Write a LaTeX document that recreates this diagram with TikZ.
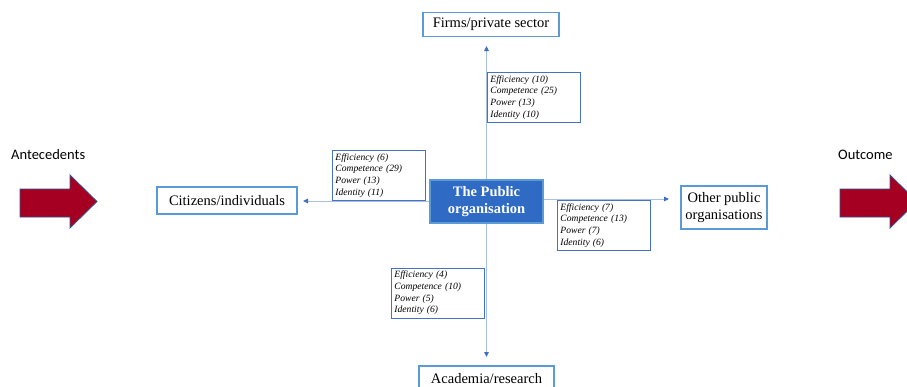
\documentclass[tikz,border=0pt]{standalone}
\usepackage{fontspec}
\setmainfont{Liberation Serif}
\newfontfamily\calibrifont{Carlito}
\usetikzlibrary{arrows.meta,backgrounds}

\definecolor{boxblue}{HTML}{5B9BD5}
\definecolor{tagblue}{HTML}{4472C4}
\definecolor{pubfill}{HTML}{2F6BC4}
\definecolor{linkblue}{HTML}{A9BFE3}
\definecolor{tipblue}{HTML}{3E6FC2}
\definecolor{blockred}{HTML}{A50021}
\definecolor{blockedge}{HTML}{2F528F}

\tikzset{
  actor/.style={draw=boxblue, line width=1.1pt, fill=white, inner sep=0pt,
    align=center, font=\fontsize{14.5}{17}\selectfont},
  public/.style={draw=boxblue, line width=1.1pt, fill=pubfill, text=white,
    inner sep=0pt, align=center, font=\fontsize{14.5}{17}\bfseries},
  tag/.style={draw=tagblue, line width=0.9pt, fill=white, inner xsep=3pt,
    inner ysep=0pt, text width=87pt, minimum height=50pt, align=left,
    font=\fontsize{9.6}{11.6}\itshape},
  link/.style={draw=linkblue, line width=0.9pt,
    -{Triangle[length=5pt,width=4.5pt,color=tipblue]}},
  block/.style={fill=blockred, draw=blockedge, line width=0.8pt},
  side/.style={font=\calibrifont\fontsize{14.5}{16}\selectfont, inner sep=0pt}
}

\begin{document}
\begin{tikzpicture}[x=1pt, y=-1pt]
  \useasboundingbox (0,0) rectangle (907,386);

  % actors
  \node[public, minimum width=113pt, minimum height=43pt] (pub) at (486.5,201.5) {The Public\\organisation};
  \node[actor, minimum width=136pt, minimum height=24pt] (firms) at (491,24.5) {Firms/private sector};
  \node[actor, minimum width=140pt, minimum height=27pt] (citizens) at (227,200.5) {Citizens/individuals};
  \node[actor, minimum width=86pt, minimum height=43pt] (others) at (724,207.5) {Other public\\organisations};
  \node[actor, minimum width=135pt, text height=17pt, text depth=8pt, anchor=base] (academia) at (486.5,383) {Academia/research};

  % arrow ends
  \coordinate (tipN) at (486.5,46);
  \coordinate (tipS) at (486.5,357);
  \coordinate (tipW) at (303,201);
  \coordinate (tipE) at (669,199);

  \begin{scope}[on background layer]
    \draw[link] (pub.center) -- (tipN);
    \draw[link] (pub.center) -- (tipS);
    \draw[link] (pub.center |- tipW) -- (tipW);
    \draw[link] (pub.center |- tipE) -- (tipE);
  \end{scope}

  % counts
  \node[tag, anchor=north west] (tagN) at (487,72) {Efficiency (10)\\Competence (25)\\Power (13)\\Identity (10)};
  \node[tag, anchor=north west] (tagW) at (332,150) {Efficiency (6)\\Competence (29)\\Power (13)\\Identity (11)};
  \node[tag, anchor=north west] (tagE) at (557,200) {Efficiency (7)\\Competence (13)\\Power (7)\\Identity (6)};
  \node[tag, anchor=north west] (tagS) at (391,267.5) {Efficiency (4)\\Competence (10)\\Power (5)\\Identity (6)};

  % side arrows
  \node[side, anchor=west] (ante) at (11,155) {Antecedents};
  \node[side, anchor=west] (outc) at (838,155) {Outcome};
  \draw[block] (20,189) -- (70,189) -- (70,175) -- (97,201.5) -- (70,228) -- (70,217) -- (20,217) -- cycle;
  \draw[block] (840,189) -- (890,189) -- (890,175) -- (917,201.5) -- (890,228) -- (890,217) -- (840,217) -- cycle;
\end{tikzpicture}
\end{document}
